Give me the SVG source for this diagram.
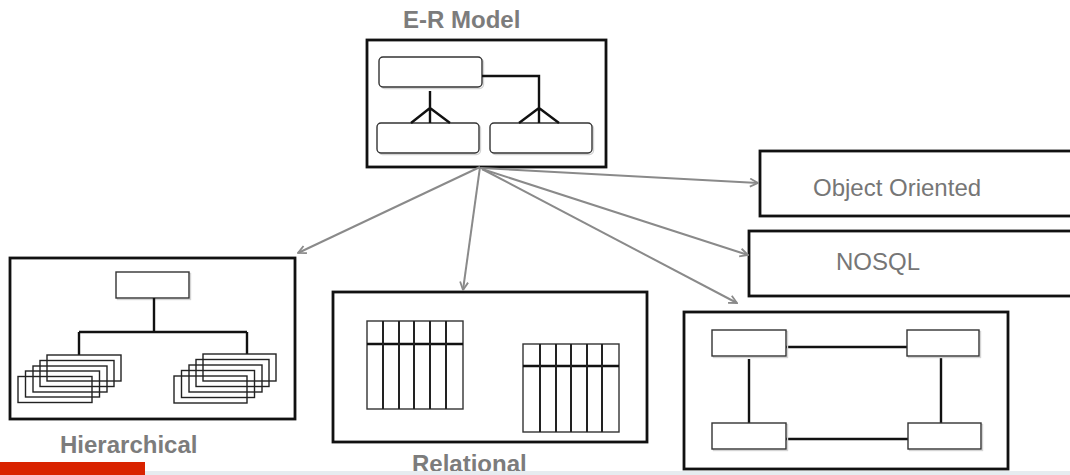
<svg xmlns="http://www.w3.org/2000/svg" width="1070" height="475" viewBox="0 0 1070 475">
  <style>
    .frame { fill: #ffffff; stroke: #111111; stroke-width: 2.8; }
    .ent { fill: #ffffff; stroke: #333333; stroke-width: 1.4; }
    .shadow { fill: none; stroke: #d4d4d4; stroke-width: 1.4; }
    .card { fill: none; stroke: #222222; stroke-width: 1.4; }
    .link { fill: none; stroke: #111111; stroke-width: 2.4; }
    .col { stroke: #222222; stroke-width: 2; }
    .head { stroke: #111111; stroke-width: 2.6; }
    .title { font-family: "Liberation Sans", Arial, sans-serif; font-size: 24px; font-weight: bold; fill: #7c7c7c; }
    .label { font-family: "Liberation Sans", Arial, sans-serif; font-size: 24px; fill: #767676; }
    .arrow { fill: none; stroke: #8a8a8a; stroke-width: 2; marker-end: url(#head); }
  </style>
  <defs>
    <marker id="head" viewBox="0 0 10 10" refX="9" refY="5" markerWidth="10" markerHeight="10" markerUnits="userSpaceOnUse" orient="auto">
      <path d="M1,1 L9,5 L1,9" fill="none" stroke="#8a8a8a" stroke-width="1.8"/>
    </marker>
  </defs>

  <rect width="1070" height="475" fill="#ffffff"/>

  <!-- E-R model -->
  <g id="er-model">
    <text class="title" x="403" y="28">E-R Model</text>
    <rect class="frame" x="367" y="40" width="239" height="127"/>
    <rect class="shadow" x="380.5" y="58.5" width="103" height="30" rx="4"/>
    <rect class="ent" x="379" y="57" width="103" height="30" rx="4"/>
    <rect class="shadow" x="378.5" y="124.5" width="102" height="30" rx="4"/>
    <rect class="ent" x="377" y="123" width="102" height="30" rx="4"/>
    <rect class="shadow" x="491.5" y="124.5" width="102" height="30" rx="4"/>
    <rect class="ent" x="490" y="123" width="102" height="30" rx="4"/>
    <path class="link" d="M430,91 V123 M430,108 L411,123 M430,108 L450,123"/>
    <path class="link" d="M482,76 H539 V123 M539,108 L519,123 M539,108 L559,123"/>
  </g>

  <!-- Hierarchical -->
  <g id="hierarchical">
    <rect class="frame" x="10" y="258" width="285" height="161"/>
    <rect class="shadow" x="117.5" y="273.5" width="73" height="26"/>
    <rect class="ent" x="116" y="272" width="73" height="26"/>
    <path class="link" d="M154,298 V332 M79,332 H247 M79,332 V355 M247,332 V354"/>
    <g>
      <rect class="card" x="47" y="355" width="74" height="26"/>
      <rect class="card" x="40" y="360.5" width="74" height="26"/>
      <rect class="card" x="33" y="366" width="74" height="26"/>
      <rect class="card" x="25.5" y="371" width="74" height="26"/>
      <rect class="card" x="18" y="376.5" width="74" height="26"/>
    </g>
    <g>
      <rect class="card" x="203" y="354" width="73" height="27"/>
      <rect class="card" x="196" y="359.5" width="73" height="27"/>
      <rect class="card" x="189" y="365" width="73" height="27"/>
      <rect class="card" x="181.5" y="370.5" width="73" height="27"/>
      <rect class="card" x="174" y="376" width="73" height="27"/>
    </g>
    <text class="title" x="60" y="453">Hierarchical</text>
  </g>

  <!-- Relational -->
  <g id="relational">
    <rect class="frame" x="333" y="292" width="314" height="150"/>
    <rect class="ent" x="367" y="321" width="96" height="88"/>
    <line class="head" x1="367" y1="344" x2="463" y2="344"/>
    <path class="col" d="M383,321 V409 M399,321 V409 M414,321 V409 M430,321 V409 M446,321 V409"/>
    <rect class="ent" x="523" y="344" width="96" height="88"/>
    <line class="head" x1="523" y1="366" x2="619" y2="366"/>
    <path class="col" d="M540,344 V432 M556,344 V432 M571,344 V432 M587,344 V432 M602,344 V432"/>
    <text class="title" x="412" y="472">Relational</text>
  </g>

  <!-- Network -->
  <g id="network">
    <rect class="frame" x="684" y="312" width="324" height="157"/>
    <path class="link" d="M786,347 H907 M786,439 H908 M749,359 V423 M941,357 V423"/>
    <rect class="shadow" x="713.5" y="331.5" width="74" height="26"/>
    <rect class="ent" x="712" y="330" width="74" height="26"/>
    <rect class="shadow" x="908.5" y="331.5" width="72" height="26"/>
    <rect class="ent" x="907" y="330" width="72" height="26"/>
    <rect class="shadow" x="713.5" y="424.5" width="74" height="26"/>
    <rect class="ent" x="712" y="423" width="74" height="26"/>
    <rect class="shadow" x="909.5" y="424.5" width="73" height="26"/>
    <rect class="ent" x="908" y="423" width="73" height="26"/>
  </g>

  <!-- Object oriented -->
  <g id="object-oriented">
    <rect class="frame" x="760" y="151" width="330" height="65"/>
    <text class="label" x="813" y="196">Object Oriented</text>
  </g>

  <!-- NoSQL -->
  <g id="nosql">
    <rect class="frame" x="749" y="231" width="340" height="65"/>
    <text class="label" x="836" y="270">NOSQL</text>
  </g>

  <!-- connectors from the E-R model -->
  <g id="connectors">
    <path class="arrow" d="M480,167 L298,253"/>
    <path class="arrow" d="M480,167 L463,290"/>
    <path class="arrow" d="M481,168 L758,183"/>
    <path class="arrow" d="M482,169 L748,255"/>
    <path class="arrow" d="M482,169 L737,303"/>
  </g>

  <!-- footer band -->
  <rect x="145" y="471" width="925" height="4" fill="#e6ecf0"/>
  <rect x="0" y="462" width="145" height="13" fill="#d92300"/>
</svg>
